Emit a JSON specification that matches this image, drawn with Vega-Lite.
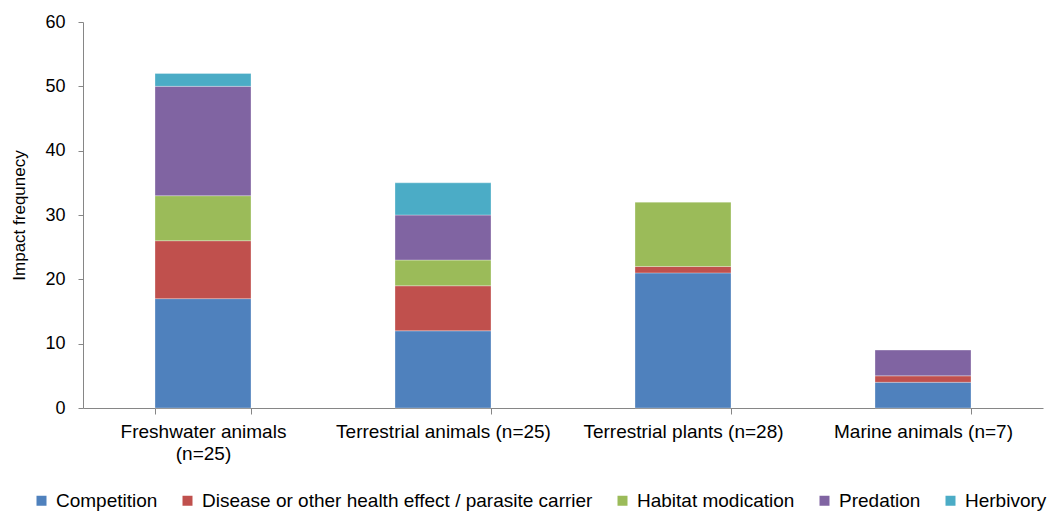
{
  "$schema": "https://vega.github.io/schema/vega-lite/v6.json",
  "width": 960,
  "height": 386,
  "autosize": {"type": "none"},
  "padding": {"left": 83, "top": 22, "right": 6, "bottom": 104},
  "background": "white",
  "config": {
    "font": "Liberation Sans",
    "view": {"stroke": null}
  },
  "data": {
    "values": [
      {"group": "Freshwater animals (n=25)", "type": "Competition", "value": 17},
      {"group": "Freshwater animals (n=25)", "type": "Disease or other health effect / parasite carrier", "value": 9},
      {"group": "Freshwater animals (n=25)", "type": "Habitat modication", "value": 7},
      {"group": "Freshwater animals (n=25)", "type": "Predation", "value": 17},
      {"group": "Freshwater animals (n=25)", "type": "Herbivory", "value": 2},
      {"group": "Terrestrial animals (n=25)", "type": "Competition", "value": 12},
      {"group": "Terrestrial animals (n=25)", "type": "Disease or other health effect / parasite carrier", "value": 7},
      {"group": "Terrestrial animals (n=25)", "type": "Habitat modication", "value": 4},
      {"group": "Terrestrial animals (n=25)", "type": "Predation", "value": 7},
      {"group": "Terrestrial animals (n=25)", "type": "Herbivory", "value": 5},
      {"group": "Terrestrial plants (n=28)", "type": "Competition", "value": 21},
      {"group": "Terrestrial plants (n=28)", "type": "Disease or other health effect / parasite carrier", "value": 1},
      {"group": "Terrestrial plants (n=28)", "type": "Habitat modication", "value": 10},
      {"group": "Marine animals (n=7)", "type": "Competition", "value": 4},
      {"group": "Marine animals (n=7)", "type": "Disease or other health effect / parasite carrier", "value": 1},
      {"group": "Marine animals (n=7)", "type": "Predation", "value": 4}
    ]
  },
  "transform": [
    {"calculate": "indexof(['Competition','Disease or other health effect / parasite carrier','Habitat modication','Predation','Herbivory'], datum.type)", "as": "ord"}
  ],
  "mark": {"type": "bar", "stroke": "white", "strokeWidth": 0.6, "strokeOpacity": 0.5},
  "encoding": {
    "x": {
      "field": "group",
      "type": "nominal",
      "sort": null,
      "scale": {"paddingInner": 0.6, "paddingOuter": 0.3},
      "axis": {
        "title": null,
        "labelAngle": 0,
        "labelFontSize": 19,
        "labelColor": "#000000",
        "labelPadding": 8,
        "labelLimit": 400,
        "labelOverlap": false,
        "domainColor": "#868686",
        "tickColor": "#868686",
        "tickSize": 6,
        "tickBand": "extent",
        "labelExpr": "datum.label == 'Freshwater animals (n=25)' ? ['Freshwater animals', '(n=25)'] : datum.label",
        "labelLineHeight": 22
      }
    },
    "y": {
      "field": "value",
      "type": "quantitative",
      "aggregate": "sum",
      "stack": "zero",
      "scale": {"domain": [0, 60], "nice": false},
      "axis": {
        "title": "Impact frequnecy",
        "titleFontSize": 17,
        "titleFontWeight": "normal",
        "titleColor": "#000000",
        "titlePadding": 16,
        "values": [0, 10, 20, 30, 40, 50, 60],
        "grid": false,
        "labelFontSize": 18,
        "labelColor": "#000000",
        "labelPadding": 13,
        "domainColor": "#868686",
        "tickColor": "#868686",
        "tickSize": 5
      }
    },
    "color": {
      "field": "type",
      "type": "nominal",
      "scale": {
        "domain": ["Competition", "Disease or other health effect / parasite carrier", "Habitat modication", "Predation", "Herbivory"],
        "range": ["#4F81BD", "#C0504D", "#9BBB59", "#8064A2", "#4BACC6"]
      },
      "legend": {
        "title": null,
        "orient": "none",
        "direction": "horizontal",
        "legendX": -51,
        "legendY": 469,
        "symbolType": "square",
        "symbolSize": 100,
        "symbolStrokeWidth": 0,
        "labelFontSize": 19,
        "labelLimit": 600,
        "labelColor": "#000000",
        "labelOffset": 5,
        "columnPadding": 20,
        "symbolOpacity": 1
      }
    },
    "order": {"field": "ord", "type": "quantitative"}
  }
}
